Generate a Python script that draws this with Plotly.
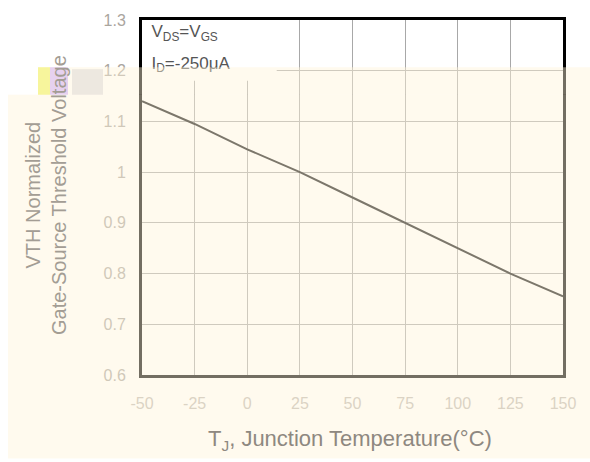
import plotly.graph_objects as go

# ---- data ----
temperature_c = [-50, -25, 0, 25, 50, 75, 100, 125, 150]
vth_normalized = [1.14, 1.095, 1.045, 1.0, 0.95, 0.90, 0.85, 0.80, 0.755]
x_ticks = [-50, -25, 0, 25, 50, 75, 100, 125, 150]
x_tick_text = ["-50", "-25", "0", "25", "50", "75", "100", "125", "150"]
y_ticks = [0.6, 0.7, 0.8, 0.9, 1.0, 1.1, 1.2, 1.3]
y_tick_text = ["0.6", "0.7", "0.8", "0.9", "1", "1.1", "1.2", "1.3"]
cond_labels = ["V<sub>DS</sub>=V<sub>GS</sub>", "I<sub>D</sub>=-250μA"]
cond_x = [-45.5, -45.5]
cond_y = [1.274, 1.212]

W, H = 590, 462
L, R, T, B = 142, 27, 14, 87
PW, PH = W - L - R, H - T - B


def px(xp):
    return (xp - L) / PW


def py(yp):
    return (H - B - yp) / PH


FONT = "Liberation Sans, Arial, sans-serif"
VEIL = "rgb(255,244,218)"
VEIL_OP = 0.45

fig = go.Figure()
fig.add_trace(go.Scatter(
    x=temperature_c, y=vth_normalized, mode="lines",
    line=dict(color="#111111", width=2), showlegend=False, hoverinfo="skip"))
fig.add_trace(go.Scatter(
    x=cond_x, y=cond_y, mode="text", text=cond_labels,
    textposition="middle right",
    textfont=dict(family=FONT, size=17, color="#555555"),
    showlegend=False, hoverinfo="skip", cliponaxis=False))

shapes = [
    # white box behind the condition text
    dict(type="rect", xref="x", yref="y", x0=-50, x1=14, y0=1.18, y1=1.3,
         fillcolor="white", line=dict(width=0), layer="between"),
    # washed-out scan overlay
    dict(type="rect", xref="paper", yref="paper", x0=px(8), x1=px(590),
         y0=py(460), y1=py(90), fillcolor=VEIL, opacity=VEIL_OP,
         line=dict(width=0), layer="above"),
    dict(type="rect", xref="paper", yref="paper", x0=px(38), x1=px(590),
         y0=py(90), y1=py(62), fillcolor=VEIL, opacity=VEIL_OP,
         line=dict(width=0), layer="above"),
    # small scan glitch patches
    dict(type="rect", xref="paper", yref="paper", x0=px(38), x1=px(50),
         y0=py(90), y1=py(62), fillcolor="rgb(240,240,90)", opacity=0.55,
         line=dict(width=0), layer="above"),
    dict(type="rect", xref="paper", yref="paper", x0=px(50), x1=px(68),
         y0=py(90), y1=py(62), fillcolor="rgb(200,160,240)", opacity=0.45,
         line=dict(width=0), layer="above"),
    dict(type="rect", xref="paper", yref="paper", x0=px(72), x1=px(103),
         y0=py(90), y1=py(64), fillcolor="rgb(225,220,215)", opacity=0.6,
         line=dict(width=0), layer="above"),
]

annotations = [
    dict(xref="paper", yref="paper", x=px(46), y=py(192), showarrow=False,
         text="VTH Normalized<br>Gate-Source Threshold Voltage",
         textangle=-90, xanchor="center", yanchor="middle",
         font=dict(family=FONT, size=20, color="#a39d94")),
    dict(xref="paper", yref="paper", x=px(350), y=py(441), showarrow=False,
         text="T<sub>J</sub>, Junction Temperature(°C)",
         xanchor="center", yanchor="middle",
         font=dict(family=FONT, size=22, color="#8e8880")),
]

fig.update_layout(
    width=W, height=H, autosize=False,
    margin=dict(l=L, r=R, t=T, b=B, pad=0),
    paper_bgcolor="white", plot_bgcolor="white",
    shapes=shapes, annotations=annotations,
    font=dict(family=FONT),
)
fig.update_xaxes(
    range=[-50, 150], tickvals=x_ticks, ticktext=x_tick_text,
    showgrid=True, gridcolor="#a8a8a8",
    gridwidth=1, showline=True, linecolor="black", linewidth=3, mirror=True,
    ticks="", zeroline=False, ticklabelstandoff=12,
    tickfont=dict(family=FONT, size=16, color="#bdb8b2"))
fig.update_yaxes(
    range=[0.6, 1.3], tickvals=y_ticks, ticktext=y_tick_text,
    showgrid=True, gridcolor="#a8a8a8",
    gridwidth=1, showline=True, linecolor="black", linewidth=3, mirror=True,
    ticks="", zeroline=False, ticklabelstandoff=10,
    tickfont=dict(family=FONT, size=16, color="#aaa59e"))

fig.write_html("out.html")
